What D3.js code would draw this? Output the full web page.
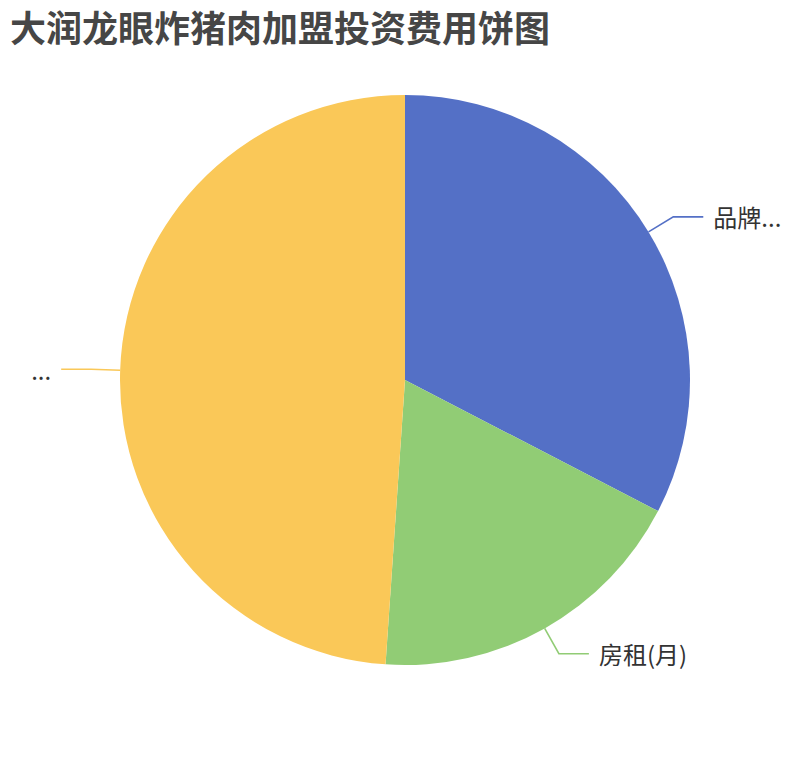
<!DOCTYPE html>
<html>
<head>
<meta charset="utf-8">
<script src="https://cdn.jsdelivr.net/npm/d3@7"></script>
<style>
  body { margin: 0; background: #fff; }
  svg text { font-family: "Noto Sans CJK SC", "Noto Sans", sans-serif; }
</style>
</head>
<body>
<svg id="chart" width="810" height="760"></svg>
<script>
// data (万元)
const categories = ["品牌加盟费", "房租(月)", "装修设备费"];
const values = [6, 3.4, 9];
const colors = ["#5470c6", "#91cc75", "#fac858"];
const title = "大润龙眼炸猪肉加盟投资费用饼图";

var svg = d3.select("#chart");
var width = +svg.attr("width");
var cx = 405, cy = 380, radius = 285;
var len1 = 29, len2 = 30; // label line segments

svg.append("text")
    .attr("x", 10)
    .attr("y", 42)
    .attr("fill", "#464646")
    .style("font-size", "36px")
    .style("font-weight", "bold")
    .text(title);

var rows = categories.map((c, i) => ({name: c, value: values[i], color: colors[i]}));

var pie = d3.pie().sort(null).value(d => d.value);
var arc = d3.arc().innerRadius(0).outerRadius(radius);
var arcs = pie(rows);

var g = svg.append("g").attr("transform", "translate(" + cx + "," + cy + ")");

g.selectAll("path.slice")
    .data(arcs)
    .join("path")
    .attr("class", "slice")
    .attr("d", arc)
    .attr("fill", d => d.data.color);

// point on a circle of radius r at angle a (0 = 12 o'clock, clockwise)
function pt(a, r) { return [Math.sin(a) * r, -Math.cos(a) * r]; }

arcs.forEach(function(d) {
    var mid = (d.startAngle + d.endAngle) / 2;
    var p0 = pt(mid, radius);
    var p1 = pt(mid, radius + len1);
    var right = p1[0] >= 0;
    var p2 = [p1[0] + (right ? len2 : -len2), p1[1]];

    g.append("polyline")
        .attr("points", [p0, p1, p2].map(p => p.join(",")).join(" "))
        .attr("fill", "none")
        .attr("stroke", d.data.color)
        .attr("stroke-width", 1.6);

    var tx = p2[0] + (right ? 10 : -10);
    var label = g.append("text")
        .attr("x", tx)
        .attr("y", p2[1])
        .attr("dominant-baseline", "central")
        .attr("text-anchor", right ? "start" : "end")
        .attr("fill", "#333")
        .style("font-size", "24px")
        .text(d.data.name);

    // truncate like the chart does when the label runs off the canvas
    var avail = right ? (width - 20 - (cx + tx)) : (cx + tx - 20);
    var name = d.data.name;
    var node = label.node();
    if (node.getComputedTextLength() > avail) {
        var n = name.length;
        while (n > 0) {
            n--;
            label.text(name.slice(0, n) + "...");
            if (node.getComputedTextLength() <= avail) break;
        }
    }
});
</script>
</body>
</html>
